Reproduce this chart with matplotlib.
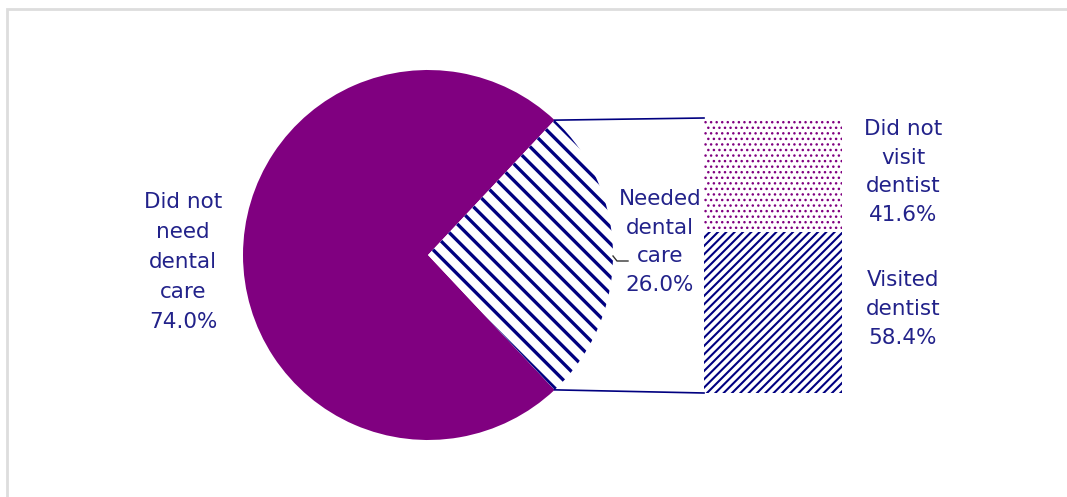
import matplotlib.pyplot as plt
import numpy as np

# Data from the image
pie_labels = ["Did not\nneed\ndental\ncare", "Needed\ndental\ncare"]
pie_values = [74.0, 26.0]
bar_labels = ["Visited\ndentist", "Did not\nvisit\ndentist"]
bar_values = [58.4, 41.6]

navy = '#000080'
purple = '#800080'
text_color = '#22228a'

W, H = 1067, 497
fig = plt.figure(figsize=(W / 100, H / 100), dpi=100)
ax = fig.add_axes([0, 0, 1, 1])

# light grey frame (only top and left visible)
ax.add_patch(plt.Rectangle((7, -20), W + 20, H - 9 + 20, fill=False,
                           edgecolor='#dddddd', linewidth=2))

# pie: 26% wedge centred on the right side
cx, cy, r = 428, 242, 185
half = pie_values[1] / 100 * 360 / 2
plt.rcParams['hatch.linewidth'] = 2.4
wedges, _ = ax.pie(pie_values, center=(cx, cy), radius=r, startangle=half,
                   colors=[purple, 'white'], frame=True)
wedges[0].set_linewidth(0)
wedges[1].set_hatch('\\\\')
wedges[1].set_edgecolor(navy)
wedges[1].set_linewidth(0)

# stacked bar for the "needed dental care" part
bx0, bx1 = 704, 842
by0, by1 = 104, 379
scale = (by1 - by0) / sum(bar_values)
plt.rcParams['hatch.linewidth'] = 1.5
lower = ax.bar((bx0 + bx1) / 2, bar_values[0] * scale, width=bx1 - bx0,
               bottom=by0, color='white', edgecolor=navy, hatch='////',
               linewidth=0)
plt.rcParams['hatch.linewidth'] = 1.0
upper = ax.bar((bx0 + bx1) / 2, bar_values[1] * scale, width=bx1 - bx0,
               bottom=by0 + bar_values[0] * scale, color='white',
               edgecolor=purple, hatch='...', linewidth=0)

ax.set_xlim(0, W)
ax.set_ylim(0, H)
ax.set_aspect('equal')
ax.axis('off')

# connecting lines
for sgn, by in [(1, by1), (-1, by0)]:
    a = np.radians(sgn * half)
    ax.plot([cx + r * np.cos(a), bx0], [cy + r * np.sin(a), by],
            color=navy, linewidth=1.2)

# labels
fs = 15.5
ax.text(183, 235, pie_labels[0] + "\n%.1f%%" % pie_values[0], ha='center',
        va='center', fontsize=fs, color=text_color, linespacing=1.63)
ax.text(660, 255, pie_labels[1] + "\n%.1f%%" % pie_values[1], ha='center',
        va='center', fontsize=fs, color=text_color, linespacing=1.55)
ax.plot([613, 617, 628], [241, 236, 236], color='#333333', linewidth=1)
ax.text(903, 325, bar_labels[1] + "\n%.1f%%" % bar_values[1], ha='center',
        va='center', fontsize=fs, color=text_color, linespacing=1.55)
ax.text(903, 188, bar_labels[0] + "\n%.1f%%" % bar_values[0], ha='center',
        va='center', fontsize=fs, color=text_color, linespacing=1.55)

fig.savefig('out.png', dpi=100)
